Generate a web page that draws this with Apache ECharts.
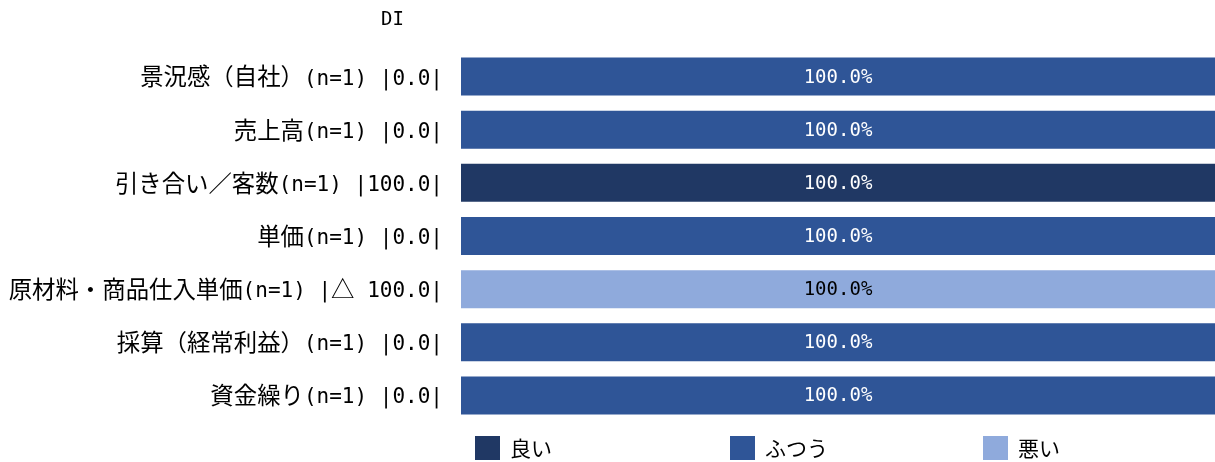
<!DOCTYPE html>
<html>
<head>
<meta charset="utf-8">
<script src="https://cdn.jsdelivr.net/npm/echarts@6/dist/echarts.min.js"></script>
<style>
  html, body { margin: 0; padding: 0; background: #fff; }
  #chart { width: 1215px; height: 462px; }
</style>
</head>
<body>
<div id="chart"></div>
<script>
// Survey items, respondent counts and DI per item
const itemNames = ['景況感（自社）', '売上高', '引き合い／客数', '単価', '原材料・商品仕入単価', '採算（経常利益）', '資金繰り'];
const sampleSizes = [1, 1, 1, 1, 1, 1, 1];
const diValues = [0.0, 0.0, 100.0, 0.0, -100.0, 0.0, 0.0];

// Share of answers (%) per item
const goodShare = [0, 0, 100, 0, 0, 0, 0];
const normalShare = [100, 100, 0, 100, 0, 100, 100];
const badShare = [0, 0, 0, 0, 100, 0, 0];

const seriesNames = ['良い', 'ふつう', '悪い'];
const seriesColors = ['#203864', '#2F5597', '#8FAADC'];
const labelColors = ['#ffffff', '#ffffff', '#000000'];

const CJK_FONT = '"Noto Sans CJK JP", sans-serif';
const MONO_FONT = '"DejaVu Sans Mono", "Noto Sans CJK JP", monospace';

function formatDI(v) {
  return v < 0 ? '△ ' + Math.abs(v).toFixed(1) : v.toFixed(1);
}

const categories = itemNames.map((name, i) =>
  name + '(n=' + sampleSizes[i] + ') |' + formatDI(diValues[i]) + '|'
);

// Full-width characters use the CJK face, half-width ones the monospace face
const WIDE = /([\u25b3\u3000-\u30ff\u4e00-\u9fff\uff00-\uffef]+)/;
function richLabel(text) {
  return text.split(WIDE).filter(s => s.length).map(s =>
    WIDE.test(s) ? '{c|' + s + '}' : '{l|' + s + '}'
  ).join('');
}

const shares = [goodShare, normalShare, badShare];

const series = seriesNames.map((name, k) => ({
  name: name,
  type: 'bar',
  stack: 'total',
  barWidth: 38,
  itemStyle: { color: seriesColors[k] },
  label: {
    show: true,
    position: 'inside',
    color: labelColors[k],
    fontFamily: MONO_FONT,
    fontSize: 19,
    offset: [0, 1],
    formatter: p => (p.value > 0 ? p.value.toFixed(1) + '%' : '')
  },
  data: shares[k]
}));

const legendLefts = [475, 730, 983];
const legends = seriesNames.map((name, k) => ({
  data: [name],
  left: legendLefts[k],
  top: 436,
  padding: 0,
  itemWidth: 25,
  itemHeight: 24,
  itemGap: 0,
  icon: 'rect',
  textStyle: { fontFamily: CJK_FONT, fontSize: 21, color: '#000', padding: [0, 0, 0, 5] }
}));

const chart = echarts.init(document.getElementById('chart'), null, { renderer: 'canvas' });
chart.setOption({
  animation: false,
  title: {
    text: 'DI',
    left: 381,
    top: 11,
    padding: 0,
    textStyle: { fontFamily: MONO_FONT, fontSize: 19, fontWeight: 'normal', color: '#000' }
  },
  legend: legends,
  grid: { left: 461, right: 0, top: 50, bottom: 40, containLabel: false, outerBoundsMode: 'none' },
  xAxis: {
    type: 'value',
    min: 0,
    max: 100,
    show: false
  },
  yAxis: {
    type: 'category',
    inverse: true,
    data: categories,
    axisLine: { show: false },
    axisTick: { show: false },
    splitLine: { show: false },
    axisLabel: {
      margin: 18,
      formatter: v => richLabel(v),
      rich: {
        c: { fontFamily: CJK_FONT, fontSize: 23.4, color: '#000', lineHeight: 28, verticalAlign: 'middle' },
        l: { fontFamily: MONO_FONT, fontSize: 21, color: '#000', lineHeight: 28, verticalAlign: 'middle', padding: [5, 0, 0, 0] }
      }
    }
  },
  series: series
});
</script>
</body>
</html>
